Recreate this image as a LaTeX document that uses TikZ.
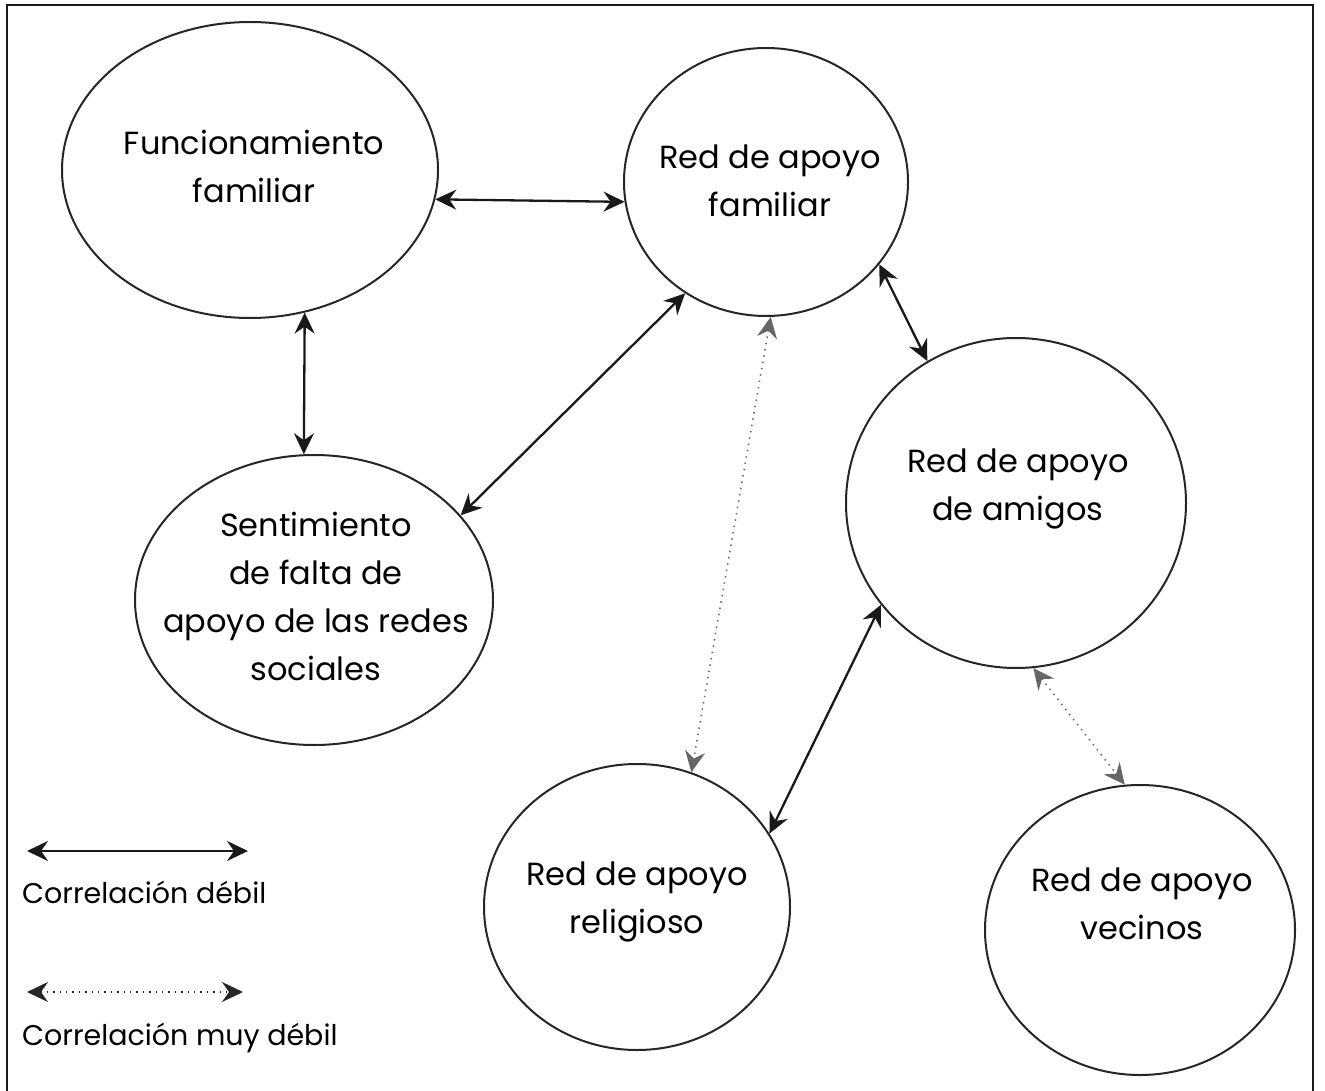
\documentclass[tikz,border=0pt]{standalone}
\usepackage{fontspec}
\setmainfont{Poppins}
\usetikzlibrary{shapes.geometric,arrows.meta}
\begin{document}
\begin{tikzpicture}[x=1pt,y=-1pt,
  ell/.style={draw=black!85, line width=2pt, ellipse, inner sep=0pt},
  txt/.style={align=center, font=\fontsize{32}{48}\selectfont, text=black, inner sep=0pt},
  ltxt/.style={anchor=base west, font=\fontsize{28.5}{32}\selectfont, text=black, inner sep=0pt},
  tip/.tip={Stealth[length=21pt,width=20pt,inset=7pt]},
  rel/.style={line width=2.3pt, draw=black!90, tip-tip},
  wrel/.style={line width=1.6pt, draw=black!60, dash pattern=on 1.4pt off 5pt, tip-tip}
]
\useasboundingbox (0,0) rectangle (1325,1091);
\draw[line width=2pt, black!90] (7,1091) -- (7,5) -- (1313,5) -- (1313,1091);

% ellipses
\node[ell, minimum width=376pt, minimum height=296pt] (fun) at (250,170) {};
\node[ell, minimum width=284pt, minimum height=268pt] (fam) at (766,182) {};
\node[ell, minimum width=340pt, minimum height=330pt] (ami) at (1016,503) {};
\node[ell, minimum width=358pt, minimum height=290pt] (sen) at (314,600) {};
\node[ell, minimum width=306pt, minimum height=286pt] (rel) at (637,907) {};
\node[ell, minimum width=310pt, minimum height=290pt] (vec) at (1140,930) {};

% texts
\node[txt] (funt) at (254,166) {Funcionamiento\\familiar};
\node[txt] (famt) at (770,181) {Red de apoyo\\familiar};
\node[txt] (amit) at (1018,489) {Red de apoyo\\de amigos};
\node[txt] (sent) at (316,596) {Sentimiento\\de falta de\\apoyo de las redes\\sociales};
\node[txt] (relt) at (637,902) {Red de apoyo\\religioso};
\node[txt] (vect) at (1142,904) {Red de apoyo\\vecinos};

% connectors
\draw[rel] (fun.-9.4) -- (fam.-172.4);
\draw[rel] (fun.-69.7) -- (sen.94.8);
\draw[rel] (fam.-126.3) -- (sen.30);
\draw[rel] (fam.-36.8) -- (ami.122.8);
\draw[rel] (ami.-143.3) -- (rel.29);
\draw[wrel] (fam.-88) -- (rel.68.9);
\draw[wrel] (ami.-84) -- (vec.96.6);

% legend
\coordinate (l1a) at (27,851);
\coordinate (l1b) at (248,851);
\coordinate (l2a) at (27,992);
\coordinate (l2b) at (243,992);
\draw[rel] (l1a) -- (l1b);
\draw[wrel, draw=black!85] (l2a) -- (l2b);
\node[ltxt] (lt1) at (22,903) {Correlación débil};
\node[ltxt] (lt2) at (22,1045) {Correlación muy débil};
\end{tikzpicture}
\end{document}
